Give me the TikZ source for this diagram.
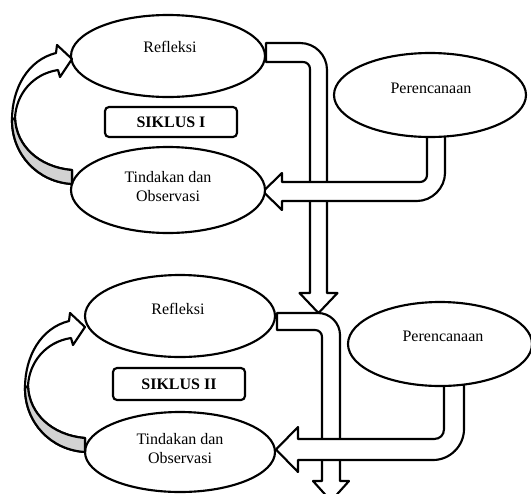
\documentclass[tikz,border=0pt]{standalone}
\usepackage{fontspec}
\setmainfont{Liberation Serif}
\usetikzlibrary{shapes.geometric}
\tikzset{
  ln/.style={line width=1.6pt, line join=round, draw=black},
  blockarrow/.style={ln, fill=white},
  ell/.style={ellipse, ln, fill=white, inner sep=0pt},
  lbl/.style={font=\fontsize{12}{14.25}\selectfont, align=center, inner sep=0pt},
  siklus/.style={ln, rounded corners=3pt, fill=white, font=\fontsize{12}{14}\selectfont\bfseries, inner sep=0pt},
}
\begin{document}
\begin{tikzpicture}[x=0.75pt,y=-0.75pt]
\useasboundingbox (0,0) rectangle (531,493);

% pipe arrows from Refleksi downward
\draw[blockarrow] (266,43) -- (300,43) .. controls (315,43) and (327,55) .. (327,70) -- (327,293) -- (337.5,293) -- (318.5,313) -- (299.5,293) -- (310,293) -- (310,69) .. controls (310,65) and (307,62) .. (303,62) -- (266,62) -- cycle;
\draw[blockarrow] (277,313) -- (318,313) .. controls (330,313) and (340,323) .. (340,335) -- (340,481) -- (349,481) -- (331,501) -- (313,481) -- (322,481) -- (322,337) .. controls (322,333) and (319,330) .. (315,330) -- (277,330) -- cycle;

% arrows from Perencanaan to Tindakan
\draw[blockarrow] (445,130) -- (445,173) .. controls (445,188) and (432,201) .. (417,201) -- (282,201) -- (282,210) -- (263,191.5) -- (282,173) -- (282,182) -- (420,182) .. controls (424,182) and (427,179) .. (427,175) -- (427,130) -- cycle;
\draw[blockarrow] (464,380) -- (464,429) .. controls (464,446) and (450,460) .. (433,460) -- (298,460) -- (298,472) -- (276,449.5) -- (298,427) -- (298,439) -- (434,439) .. controls (440,439) and (444,435) .. (444,429) -- (444,380) -- cycle;

% ellipses
\node[ell, minimum width=145.5pt, minimum height=61.5pt] (ref1) at (168,56) {};
\node[ell, minimum width=145.5pt, minimum height=64.5pt] (tin1) at (168,190) {};
\node[ell, minimum width=144pt, minimum height=63pt] (per1) at (430,95) {};
\node[ell, minimum width=142.5pt, minimum height=61.5pt] (ref2) at (180,316) {};
\node[ell, minimum width=142.5pt, minimum height=60pt] (tin2) at (180,452) {};
\node[ell, minimum width=138pt, minimum height=63pt] (per2) at (440,344) {};

% curved arrows (Tindakan -> Refleksi)
\foreach \sx/\sy in {0/0, 13/268}{
\begin{scope}[shift={(\sx,\sy)}]
\filldraw[ln, fill=white] (72,170) .. controls (38,167) and (16,145) .. (15,118) .. controls (16,95) and (32,74) .. (58,70) -- (60,77) -- (72,59) -- (57,45) -- (56,53) .. controls (28,60) and (12,88) .. (12,120) .. controls (12,155) and (38,182) .. (72,184) -- cycle;
\filldraw[ln, fill=gray!35] (15,118) .. controls (16,145) and (38,167) .. (72,170) -- (72,184) .. controls (38,182) and (12,155) .. (12,120) -- cycle;
\end{scope}
}

% labels
\node[lbl] (tref1) at (170,47) {Refleksi};
\node[lbl] (ttin1) at (168,187) {Tindakan dan\\Observasi};
\node[lbl] (tper1) at (431,88) {Perencanaan};
\node[lbl] (tref2) at (178,309) {Refleksi};
\node[lbl] (ttin2) at (180,449) {Tindakan dan\\Observasi};
\node[lbl] (tper2) at (443,336) {Perencanaan};

\node[siklus, minimum width=99pt, minimum height=22.5pt] (s1) at (171,122) {SIKLUS I};
\node[siklus, minimum width=99pt, minimum height=24pt] (s2) at (179,384) {SIKLUS II};
\end{tikzpicture}
\end{document}
